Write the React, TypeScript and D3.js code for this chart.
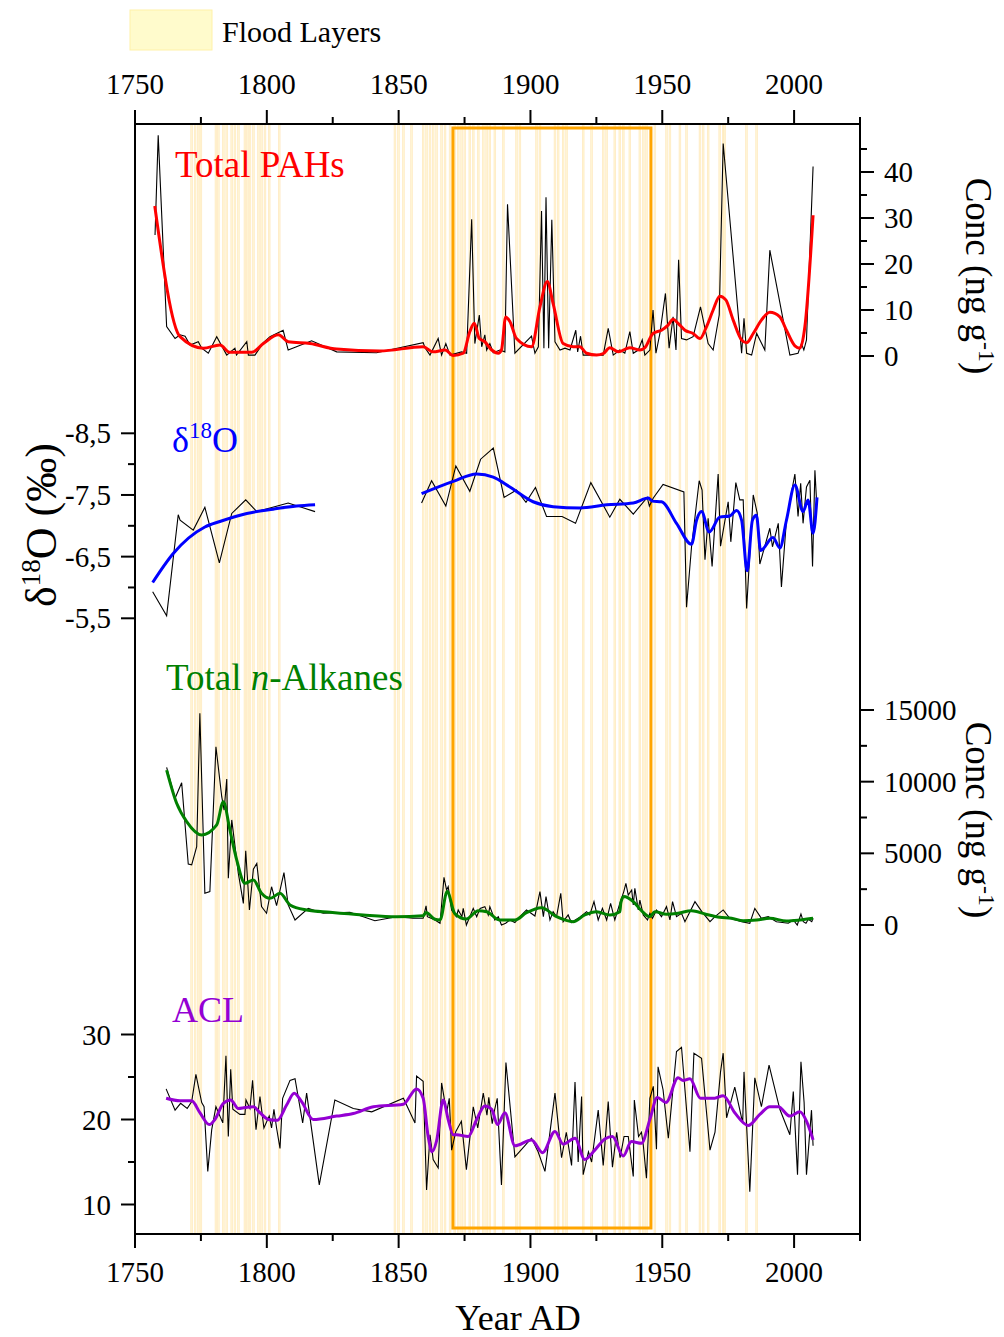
import React from "react";
import * as d3 from "d3";

type P = [number, number];

const xTicks = [1750, 1800, 1850, 1900, 1950, 2000];
const xMinorTicks = [1775, 1825, 1875, 1925, 1975, 2025];
const floodYears = [1771.5, 1772.8, 1774.0, 1775.0, 1780.7, 1781.6, 1783.5, 1784.8, 1786.7, 1787.9, 1789.2, 1791.7, 1792.6, 1793.6, 1794.9, 1796.8, 1798.0, 1799.3, 1800.9, 1804.7,
  1848.6, 1849.9, 1851.8, 1854.9, 1859.3, 1860.6, 1861.9, 1863.1, 1864.4, 1866.3, 1867.6, 1869.5, 1871.3, 1872.6, 1873.9, 1875.1, 1877.0, 1878.3, 1880.2, 1882.1, 1883.4, 1884.6, 1886.5, 1889.7, 1894.7, 1896.0, 1902.3, 1903.6, 1909.3, 1910.5, 1912.4, 1913.7, 1920.0, 1923.2, 1927.6, 1928.9, 1932.0, 1933.9, 1935.2, 1937.7, 1941.5, 1942.8, 1944.0, 1947.2, 1951.6, 1952.9, 1956.7, 1959.2, 1964.3, 1965.5, 1967.4, 1971.8, 1973.1, 1973.7, 1981.9, 1985.8];
const highlightRange = [1870.6, 1945.7];

const pahTicks = [0, 10, 20, 30, 40];
const pahMinor = [5, 15, 25, 35, 45];
const d18oTicks = [-8.5, -7.5, -6.5, -5.5];
const d18oMinor = [-8, -7, -6];
const alkTicks = [0, 5000, 10000, 15000];
const alkMinor = [2500, 7500, 12500];
const aclTicks = [10, 20, 30];
const aclMinor = [15, 25];

const pahRaw: P[] = [[1757.6,26.3],[1758.8,48],[1762.0,6.4],[1765.2,3.8],[1767.1,4.6],[1769,4.3],[1770.9,2.4],[1774,3.1],[1775.3,1.7],[1777.8,0.6],[1781,4.2],[1784.8,0.2],[1787.9,1.7],[1788.5,0.2],[1792.4,3.1],[1793,0.2],[1795.5,0.2],[1798.7,2.9],[1801.2,4.2],[1803.7,4.9],[1806.2,5.6],[1808.1,1.3],[1817,3.3],[1826.5,0.9],[1841.6,0.7],[1859.3,2.9],[1860,1.8],[1861.9,0.2],[1865,3.8],[1866.3,0.2],[1867.9,2.7],[1869.5,0.2],[1873.9,0.9],[1875.8,0.6],[1877.7,29.7],[1878.9,2.7],[1880.6,8.9],[1881.5,2],[1882.7,4.6],[1883.4,1.3],[1884.6,2.7],[1885.9,0.7],[1888.4,1.3],[1890.3,0.9],[1891.3,33],[1894.1,0.6],[1900.4,4.3],[1901.7,0.6],[1903,2],[1904.2,31.5],[1905.1,1.7],[1905.9,34.5],[1906.9,1.7],[1908.1,29.6],[1909.3,3.1],[1911.2,1.3],[1913.1,1.7],[1915,1.3],[1917.2,5.6],[1917.9,0.9],[1919,4.3],[1920,0.2],[1923.8,0.2],[1927.6,0.2],[1929.5,6],[1931.4,0.2],[1933.9,1.3],[1935.8,0.6],[1937.7,5.3],[1939,0.6],[1940.9,1.3],[1942.4,3.5],[1943.4,0.2],[1945.3,1.3],[1946.5,10],[1947.6,0.6],[1949.1,4.9],[1951.2,13.6],[1952.6,1.7],[1954.1,8.5],[1955.2,1.3],[1956.2,20.9],[1957.3,3.8],[1959.2,3.5],[1961.7,4.2],[1964.5,10.7],[1967.4,2.7],[1969.3,1.3],[1971.6,8.9],[1973.1,46.2],[1980.1,0.6],[1981,8.2],[1982,0.6],[1983.9,0.2],[1985.8,4.9],[1988.9,1.3],[1990.8,23],[1998.4,0.2],[2001.5,0.6],[2002.8,2.7],[2003.7,1.3],[2004.7,3.5],[2007.2,41.2]];
const pahSmooth: P[] = [[1757.5,32.6],[1767.1,4.2],[1775.9,1.7],[1782.2,2.4],[1786,0.8],[1794.3,0.8],[1798.7,2.7],[1804.4,4.6],[1808.1,3.1],[1816.4,2.7],[1826.5,1.5],[1842.9,1.1],[1859.3,2],[1863.1,0.9],[1867.6,1.3],[1870.7,0.1],[1874.5,0.6],[1877,5.3],[1878.7,7.1],[1880.6,3.8],[1882.7,3.1],[1885.3,1.3],[1887.8,0.6],[1889,1.3],[1890.6,8.5],[1892.2,7.5],[1894.7,3.8],[1900.4,2],[1903.6,10.7],[1906.4,16.2],[1908.6,11.4],[1912.4,2.7],[1916.2,2],[1918.7,2],[1921.3,0.6],[1925.1,0.2],[1927.6,0.5],[1930.1,1.8],[1933.3,0.9],[1937.7,1.8],[1941.5,1.3],[1943.4,1.8],[1946.5,4.9],[1949.7,5.6],[1952.2,6.7],[1954.1,8],[1956,7.1],[1958.6,5.6],[1961.7,4.9],[1964.3,3.8],[1966.8,6.4],[1969.3,10],[1971.8,13],[1974.1,12.2],[1976.9,7.8],[1980.1,3.5],[1982,2.9],[1984.5,4.9],[1987.6,7.8],[1990.8,9.5],[1994.6,8.5],[1997.1,5.6],[2000.3,2.2],[2002.2,1.7],[2004.1,6.4],[2007.2,30.6]];

const d18oRawA: P[] = [[1756.7,-5.93],[1762,-5.54],[1766.4,-7.18],[1767.1,-7.09],[1772.1,-6.93],[1776.5,-7.30],[1782,-6.40],[1786.7,-7.20],[1792,-7.42],[1796.2,-7.23],[1808.1,-7.37],[1818.3,-7.23]];
const d18oRawB: P[] = [[1858.7,-7.37],[1862.5,-7.73],[1867.9,-7.32],[1871.7,-7.97],[1877,-7.56],[1881.1,-8.08],[1885.9,-8.26],[1890,-7.46],[1894.7,-7.58],[1898.3,-7.38],[1901.9,-7.62],[1906.1,-7.15],[1912,-7.15],[1917.1,-7.04],[1922.9,-7.70],[1930.1,-7.14],[1933.9,-7.43],[1939,-7.19],[1944.3,-7.46],[1945.1,-7.32],[1946.6,-7.45],[1950.3,-7.67],[1958.2,-7.55],[1959.2,-5.68],[1961.1,-6.66],[1964,-7.73],[1965.1,-7.58],[1966.2,-6.45],[1967.4,-7.12],[1968.9,-6.34],[1971.2,-7.84],[1972.1,-6.67],[1975,-7.39],[1976,-6.74],[1977.9,-7.70],[1979.4,-7.42],[1980.7,-7.42],[1982,-5.66],[1984.5,-7.50],[1986,-7.21],[1987,-6.38],[1990.8,-6.96],[1991.8,-6.66],[1994,-7.04],[1995.2,-6.01],[1997.1,-7.09],[2000.3,-7.84],[2001.5,-7.15],[2002.5,-7.69],[2003.4,-7.04],[2004.7,-7.63],[2006,-7.74],[2007,-6.34],[2007.9,-7.90],[2008.5,-7.42]];
const d18oSmoothA: P[] = [[1756.7,-6.08],[1764.5,-6.55],[1776.5,-6.98],[1782.2,-7.07],[1792.4,-7.20],[1802.4,-7.27],[1811.3,-7.32],[1818.3,-7.34]];
const d18oSmoothB: P[] = [[1858.7,-7.52],[1870.7,-7.72],[1879.6,-7.84],[1885.9,-7.79],[1892.2,-7.63],[1901,-7.39],[1908.6,-7.31],[1918.8,-7.29],[1928.9,-7.34],[1939,-7.37],[1944.7,-7.45],[1946.2,-7.40],[1949.7,-7.39],[1955.4,-7.04],[1961.1,-6.70],[1963,-7.09],[1964.9,-7.23],[1967.8,-6.90],[1971.8,-7.14],[1975.6,-7.16],[1978.2,-7.25],[1980.1,-7.09],[1982.2,-6.27],[1984.2,-7.09],[1985.7,-7.17],[1987.3,-6.60],[1992,-6.81],[1994.6,-6.64],[1997.1,-7.09],[2000.3,-7.66],[2003.4,-7.23],[2005.3,-7.42],[2007.2,-6.88],[2008.7,-7.46]];

const alkRaw: P[] = [[1762,11000],[1765.2,8840],[1767.7,9930],[1770.2,4256],[1771.5,4200],[1773.4,5460],[1774.6,14770],[1776.5,2210],[1778.4,2330],[1780.7,12440],[1782.9,8950],[1783.8,8020],[1784.8,10190],[1785.4,3260],[1786.7,7330],[1789.2,3600],[1791.1,1510],[1792,5180],[1793.4,1050],[1794.9,3890],[1796.2,4300],[1798,1280],[1799.9,820],[1801.8,2670],[1803.7,1350],[1806.5,3650],[1808.1,1400],[1810.7,350],[1815.7,1160],[1821.4,820],[1831.5,890],[1836.6,580],[1841,300],[1849.2,580],[1855.5,470],[1859.3,470],[1860.4,1330],[1860.9,580],[1863.8,350],[1865.7,120],[1867.2,3330],[1868.2,2440],[1868.8,2670],[1870.1,1050],[1871.9,580],[1872.6,1050],[1874,580],[1874.5,1160],[1875.7,0],[1878.3,1160],[1879.6,580],[1880.9,1160],[1882.7,1280],[1884,700],[1884.6,1280],[1886.5,350],[1887.8,580],[1889,0],[1890.6,120],[1892.2,350],[1894.1,170],[1896,580],[1898.5,1050],[1901.7,630],[1903.6,2330],[1904.9,580],[1905.9,1980],[1907.4,350],[1908.6,930],[1909.9,580],[1911.5,2210],[1912.4,230],[1914.3,700],[1915.5,170],[1918.7,550],[1921.3,930],[1922.5,700],[1924.1,1630],[1925.7,350],[1927.3,1160],[1928.9,350],[1930.4,1510],[1932,350],[1933.9,1510],[1935.4,2330],[1936.2,2910],[1937.1,2090],[1938.4,2440],[1939,1400],[1939.6,2560],[1940.9,1050],[1941.5,1740],[1942.8,700],[1944.4,350],[1945.3,810],[1946.3,470],[1947.8,1050],[1949.7,580],[1951.6,1280],[1952.9,350],[1953.9,1630],[1955.4,580],[1957.3,810],[1958.6,230],[1960.5,930],[1962.4,1630],[1965,930],[1968.1,230],[1970,580],[1973.1,1050],[1975.6,470],[1980.1,230],[1983.2,120],[1985.1,1160],[1987.6,470],[1990.2,580],[1993.3,230],[1997.8,120],[1999.7,350],[2001.2,0],[2002.6,770],[2003.5,230],[2004.5,120],[2005.4,400],[2006.7,230],[2007.2,470]];
const alkSmooth: P[] = [[1762,10810],[1765.8,8490],[1769.6,7210],[1775.3,6280],[1781,6980],[1783.5,8600],[1786,6630],[1788.6,4530],[1791.7,2910],[1794.9,3140],[1798,2210],[1801.2,1860],[1805,2210],[1808.8,1400],[1815.1,1050],[1824,890],[1836.6,700],[1849.2,580],[1859.3,650],[1860.4,870],[1863.8,400],[1865.7,350],[1868.4,2330],[1871.3,800],[1875.7,420],[1880.2,1000],[1883.4,930],[1888.4,350],[1894.1,350],[1898.5,860],[1904.2,1210],[1909.9,580],[1916.2,230],[1920.6,700],[1925.1,930],[1930.1,700],[1933.9,930],[1934.3,1560],[1935.4,1980],[1939,1630],[1942.1,1000],[1945.3,580],[1947.2,930],[1951.6,750],[1956,820],[1961.1,1000],[1966.2,770],[1971.8,540],[1976.3,470],[1980.7,300],[1985.8,350],[1990.8,470],[1997.1,280],[2002.2,350],[2007.2,470]];

const aclRaw: P[] = [[1761.8,23.6],[1765.2,21.1],[1767.3,21.9],[1769.8,21.3],[1771.5,22.1],[1773.1,25.3],[1775.3,22],[1776.2,21.5],[1777.6,13.9],[1779.1,18.8],[1780.7,21.5],[1783.3,19.6],[1784.5,27.5],[1785.4,18],[1786.3,25.9],[1787.1,21.2],[1789.8,20.6],[1791.7,20.6],[1792.1,22.3],[1793.6,21.3],[1794.6,24.6],[1795.9,18.8],[1797.4,22.7],[1798.9,19],[1800.9,20.4],[1801.8,19],[1802.7,21.2],[1803.7,19],[1805,16.6],[1806,22.5],[1808.8,24.6],[1810.7,24.8],[1813.6,19.6],[1815.1,23.1],[1819.9,12.3],[1825.8,22.3],[1832.8,21.3],[1839.8,20.9],[1851.8,22.5],[1856.2,19.6],[1856.8,25.1],[1859.3,24.5],[1860.6,11.7],[1861.9,18.2],[1863.1,15.3],[1865,14.3],[1866.3,24.3],[1868.2,20.8],[1869.2,22.5],[1870.1,16.4],[1871.7,18.6],[1873.8,19.8],[1875.7,14.1],[1878.3,21.5],[1880,19],[1882.1,23.1],[1883.5,20.5],[1884.2,22.6],[1885.5,19.5],[1886.3,21],[1887.4,22.5],[1889,12.3],[1890.7,26.7],[1894.1,15.6],[1900.4,17.8],[1902.9,16.2],[1905.5,13.9],[1909.3,23.1],[1911.8,15.5],[1913.6,18.5],[1915.6,14.6],[1916.9,24.4],[1918.1,15],[1919.4,22.7],[1920,13.5],[1922,16.2],[1923.2,15],[1925.7,21.1],[1927.6,14.6],[1929.5,22.1],[1931.1,14.4],[1932.7,18.5],[1934,15.5],[1935.5,18],[1937.1,18],[1939,13.3],[1939.4,22.3],[1941,18],[1942.1,18.5],[1942.8,17],[1944,13.1],[1945.3,22.5],[1946.6,23.9],[1947.8,16.5],[1948.4,26.2],[1950.3,23.5],[1952.3,17.8],[1955.4,28],[1957.3,28.5],[1960.5,16.2],[1962,27.8],[1964.9,27.2],[1968.1,16.4],[1970,18.5],[1972.1,25.6],[1973.1,27.8],[1974.4,20.2],[1977.5,23.8],[1980.5,19.6],[1981,25.6],[1983.2,11.5],[1985.1,24.9],[1987.6,21.5],[1990.5,26.4],[1994.6,21.2],[1998.4,18.2],[1999.7,23.3],[2001.3,13.5],[2002.6,26.8],[2003.8,22],[2004.7,13.5],[2006.6,21.1],[2007.2,16.9]];
const aclSmooth: P[] = [[1761.8,22.5],[1767.1,22.2],[1771.5,22.2],[1774.6,20.8],[1778.2,19.4],[1780.3,20],[1783.5,21.9],[1786.3,22.3],[1789.2,21.3],[1791.7,21.4],[1794.9,21.5],[1797.4,20.8],[1800.6,20],[1804,19.9],[1807.5,21.7],[1810.4,23.1],[1813.2,22.1],[1817.6,20],[1826.5,20.4],[1832.8,20.7],[1840.4,21.5],[1851.8,21.8],[1856.8,23.6],[1859.3,22.5],[1861.2,18],[1862.7,16.2],[1864.4,17.5],[1866.9,22.3],[1868.8,20],[1870.7,18.2],[1872,18.2],[1876.4,18],[1879.6,20],[1882.7,21.6],[1885.3,21.2],[1887.5,19.4],[1890.3,20.8],[1894.1,16.9],[1900.4,17.6],[1904.6,16.1],[1909.3,18.6],[1912.4,17.1],[1916.9,17.8],[1920.6,15.3],[1924.4,16.4],[1928.2,17.7],[1931.1,18],[1935.2,15.7],[1938.3,17.4],[1942.1,17.2],[1945.3,20],[1948.1,22.6],[1951.4,22],[1956,24.9],[1957.9,24.6],[1960.5,24.8],[1964.5,22.5],[1969.9,22.5],[1973.1,22.8],[1977.5,20.8],[1982.6,19.3],[1987,20.6],[1990.8,21.5],[1994,21.5],[1998.4,20.4],[2002.2,20.9],[2004.7,19.8],[2007.2,17.6]];

const FONT = "'Liberation Serif', 'Times New Roman', Times, serif";
const L = 135, R = 860, T = 124, B = 1234;
const MAJ = 14, MIN = 7;
const TICKFS = 29;

export default function App() {
  const x = d3.scaleLinear().domain([1750, 2025]).range([L, R]);
  const yPah = d3.scaleLinear().domain([0, 40]).range([356, 172]);
  const yD18 = d3.scaleLinear().domain([-8.5, -5.5]).range([433.3, 618.3]);
  const yAlk = d3.scaleLinear().domain([0, 15000]).range([925, 710]);
  const yAcl = d3.scaleLinear().domain([10, 30]).range([1204.5, 1034.5]);

  const mk = (ys: d3.ScaleLinear<number, number>, smooth = false) => {
    const g = d3.line<P>().x(d => x(d[0])).y(d => ys(d[1]));
    if (smooth) g.curve(d3.curveMonotoneX);
    return g;
  };

  const raw = (data: P[], ys: d3.ScaleLinear<number, number>) => (
    <path d={mk(ys)(data) || ""} fill="none" stroke="#000" strokeWidth={1.1} strokeLinejoin="miter" />
  );
  const sm = (data: P[], ys: d3.ScaleLinear<number, number>, color: string) => (
    <path d={mk(ys, true)(data) || ""} fill="none" stroke={color} strokeWidth={3} strokeLinejoin="round" />
  );

  const fmtComma = (v: number) => d3.format(".1f")(v).replace(".", ",").replace("−", "-");

  return (
    <svg width={1004} height={1337} style={{ position: "absolute", left: 0, top: 0, background: "#fff" }} fontFamily={FONT}>
      <rect x={0} y={0} width={1004} height={1337} fill="#fff" />
      {/* legend */}
      <rect x={130} y={10} width={82} height={40} fill="#FFFBCC" stroke="#FFF1A8" strokeWidth={1} />
      <text x={222} y={42} fontSize={30} fill="#000">Flood Layers</text>

      {/* flood layers */}
      {floodYears.map((yr, i) => (
        <rect key={i} x={x(yr) - 0.9} y={T} width={1.8} height={B - T} fill="#FFF4CC" stroke="#FFE0A8" strokeWidth={0.5} opacity={0.85} />
      ))}

      {/* highlight box */}
      <rect x={x(highlightRange[0])} y={128} width={x(highlightRange[1]) - x(highlightRange[0])} height={1100} fill="none" stroke="#FFA500" strokeWidth={3} />

      {/* data */}
      {raw(pahRaw, yPah)}
      {sm(pahSmooth, yPah, "#FF0000")}
      {raw(d18oRawA, yD18)}
      {raw(d18oRawB, yD18)}
      {sm(d18oSmoothA, yD18, "#0000FF")}
      {sm(d18oSmoothB, yD18, "#0000FF")}
      {raw(alkRaw, yAlk)}
      {sm(alkSmooth, yAlk, "#008000")}
      {raw(aclRaw, yAcl)}
      {sm(aclSmooth, yAcl, "#9400D3")}

      {/* frame */}
      <rect x={L} y={T} width={R - L} height={B - T} fill="none" stroke="#000" strokeWidth={2} />

      {/* bottom & top axes */}
      {xTicks.map(t => (
        <g key={"xb" + t}>
          <line x1={x(t)} x2={x(t)} y1={B} y2={B + MAJ} stroke="#000" strokeWidth={2} />
          <line x1={x(t)} x2={x(t)} y1={T} y2={T - MAJ} stroke="#000" strokeWidth={2} />
          <text x={x(t)} y={B + 48} fontSize={TICKFS} textAnchor="middle">{t}</text>
          <text x={x(t)} y={T - 30} fontSize={TICKFS} textAnchor="middle">{t}</text>
        </g>
      ))}
      {xMinorTicks.map(t => (
        <g key={"xm" + t}>
          <line x1={x(t)} x2={x(t)} y1={B} y2={B + MIN} stroke="#000" strokeWidth={2} />
          <line x1={x(t)} x2={x(t)} y1={T} y2={T - MIN} stroke="#000" strokeWidth={2} />
        </g>
      ))}
      <text x={518} y={1330} fontSize={36} textAnchor="middle">Year AD</text>

      {/* right PAH axis */}
      {pahTicks.map(t => (
        <g key={"pa" + t}>
          <line x1={R} x2={R + MAJ} y1={yPah(t)} y2={yPah(t)} stroke="#000" strokeWidth={2} />
          <text x={R + 24} y={yPah(t) + 10} fontSize={TICKFS}>{t}</text>
        </g>
      ))}
      {pahMinor.map(t => (
        <line key={"pm" + t} x1={R} x2={R + MIN} y1={yPah(t)} y2={yPah(t)} stroke="#000" strokeWidth={2} />
      ))}
      <text transform={`translate(966,276) rotate(90)`} fontSize={37} textAnchor="middle">
        Conc (ng g<tspan dy={-13} fontSize={24}>-1</tspan><tspan dy={13}>)</tspan>
      </text>

      {/* right alkanes axis */}
      {alkTicks.map(t => (
        <g key={"aa" + t}>
          <line x1={R} x2={R + MAJ} y1={yAlk(t)} y2={yAlk(t)} stroke="#000" strokeWidth={2} />
          <text x={R + 24} y={yAlk(t) + 10} fontSize={TICKFS}>{t}</text>
        </g>
      ))}
      {alkMinor.map(t => (
        <line key={"am" + t} x1={R} x2={R + MIN} y1={yAlk(t)} y2={yAlk(t)} stroke="#000" strokeWidth={2} />
      ))}
      <text transform={`translate(966,820) rotate(90)`} fontSize={37} textAnchor="middle">
        Conc (ng g<tspan dy={-13} fontSize={24}>-1</tspan><tspan dy={13}>)</tspan>
      </text>

      {/* left d18O axis */}
      {d18oTicks.map(t => (
        <g key={"da" + t}>
          <line x1={L} x2={L - MAJ} y1={yD18(t)} y2={yD18(t)} stroke="#000" strokeWidth={2} />
          <text x={L - 24} y={yD18(t) + 10} fontSize={TICKFS} textAnchor="end">{fmtComma(t)}</text>
        </g>
      ))}
      {d18oMinor.map(t => (
        <line key={"dm" + t} x1={L} x2={L - MIN} y1={yD18(t)} y2={yD18(t)} stroke="#000" strokeWidth={2} />
      ))}
      <text transform={`translate(56,525) rotate(-90)`} fontSize={44} textAnchor="middle">
        δ<tspan dy={-16} fontSize={27}>18</tspan><tspan dy={16}>O (‰)</tspan>
      </text>

      {/* left ACL axis */}
      {aclTicks.map(t => (
        <g key={"ca" + t}>
          <line x1={L} x2={L - MAJ} y1={yAcl(t)} y2={yAcl(t)} stroke="#000" strokeWidth={2} />
          <text x={L - 24} y={yAcl(t) + 10} fontSize={TICKFS} textAnchor="end">{t}</text>
        </g>
      ))}
      {aclMinor.map(t => (
        <line key={"cm" + t} x1={L} x2={L - MIN} y1={yAcl(t)} y2={yAcl(t)} stroke="#000" strokeWidth={2} />
      ))}

      {/* series labels */}
      <text x={175} y={177} fontSize={37} fill="#FF0000">Total PAHs</text>
      <text x={172} y={452} fontSize={36} fill="#0000FF">δ<tspan dy={-14} fontSize={23}>18</tspan><tspan dy={14}>O</tspan></text>
      <text x={166} y={690} fontSize={37} fill="#008000">Total <tspan fontStyle="italic">n</tspan>-Alkanes</text>
      <text x={172} y={1022} fontSize={36} fill="#9400D3">ACL</text>
    </svg>
  );
}
